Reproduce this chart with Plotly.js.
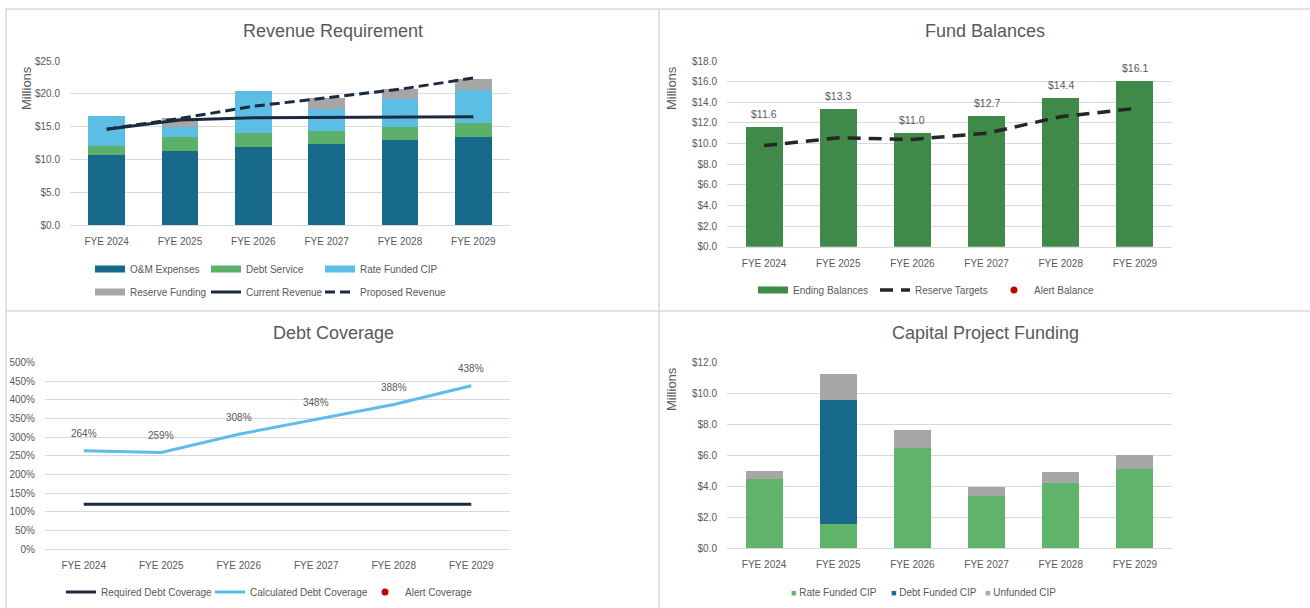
<!DOCTYPE html>
<html><head><meta charset="utf-8">
<script src="https://cdn.plot.ly/plotly-3.0.1.min.js"></script>
<style>html,body{margin:0;padding:0;background:#fff}#chart{width:1310px;height:608px}</style>
</head><body><div id="chart"></div>
<script>
// ---------- DATA ----------
const years = ['FYE 2024','FYE 2025','FYE 2026','FYE 2027','FYE 2028','FYE 2029'];
// Revenue Requirement ($ millions)
const omExpenses     = [10.6, 11.3, 11.9, 12.35, 12.95, 13.4];
const debtService    = [1.5, 2.05, 2.1, 2.0, 2.0, 2.1];
const rateFundedCIP  = [4.5, 1.55, 6.45, 3.35, 4.2, 5.1];
const reserveFunding = [0, 1.4, 0, 1.65, 1.6, 1.7];
const currentRevenue = [14.6, 16.0, 16.35, 16.4, 16.45, 16.5];
const proposedRevenue= [14.6, 16.25, 18.1, 19.35, 20.7, 22.4];
// Fund Balances ($ millions)
const endingBalances = [11.6, 13.3, 11.0, 12.7, 14.4, 16.1];
const reserveTargets = [9.8, 10.55, 10.4, 11.0, 12.6, 13.4];
const alertBalance   = [null, null, null, null, null, null];
// Debt Coverage (%)
const requiredCoverage   = [120, 120, 120, 120, 120, 120];
const calculatedCoverage = [264, 259, 308, 348, 388, 438];
const alertCoverage      = [null, null, null, null, null, null];
// Capital Project Funding ($ millions)
const debtFundedCIP = [0, 8.03, 0, 0, 0, 0];
const unfundedCIP   = [0.46, 1.69, 1.17, 0.6, 0.73, 0.9];

// ---------- STYLE ----------
const FONT = '"Liberation Sans", Arial, sans-serif';
const TXT = '#595959';
const GRID = '#d9d9d9';
const C_OM = '#176a8c', C_DEBT = '#5db06a', C_CIP = '#5cbde5', C_GRAY = '#a6a6a6';
const C_NAVY = '#1b2a41', C_FUND = '#3f8a48', C_DASH2 = '#262626', C_RED = '#c00000';
const C_CALC = '#5ebde8', C_RATE4 = '#5fb36b';
const W = 1310, H = 608;
const px = v => v / W, py = v => 1 - v / H;

function xax(domain, anchor) {
  return {domain, anchor, type:'category', range:[-0.5, 5.5], showgrid:false,
    showline:true, linecolor:GRID, linewidth:1, zeroline:false,
    ticks:'outside', ticklen:7, tickcolor:'rgba(0,0,0,0)',
    tickfont:{size:10, color:TXT, family:FONT}, fixedrange:true};
}
function yax(domain, anchor, range, dtick, fmt, suffix) {
  return {domain, anchor, range, dtick, tickformat:fmt, ticksuffix:suffix,
    showgrid:true, gridcolor:GRID, gridwidth:1, zeroline:false, showline:false,
    ticks:'outside', ticklen:7, tickcolor:'rgba(0,0,0,0)',
    tickfont:{size:10, color:TXT, family:FONT}, fixedrange:true};
}

const NUL = years.map(() => null);
const traces = [];
function bar(y, color, xa, ya) {
  traces.push({type:'bar', x:years, y, marker:{color}, xaxis:xa, yaxis:ya,
    showlegend:false, hoverinfo:'skip'});
}
function swatch(name, color, legend, lw, xa, ya) {
  traces.push({type:'scatter', mode:'lines', x:years, y:NUL, name, legend,
    line:{color, width:7}, xaxis:xa || 'x', yaxis:ya || 'y', hoverinfo:'skip', legendwidth:lw});
}

// Panel 1
bar(omExpenses, C_OM, 'x', 'y');
bar(debtService, C_DEBT, 'x', 'y');
bar(rateFundedCIP, C_CIP, 'x', 'y');
bar(reserveFunding, C_GRAY, 'x', 'y');
swatch('O&M Expenses', C_OM, 'legend', 71);
swatch('Debt Service', C_DEBT, 'legend', 69);
swatch('Rate Funded CIP', C_CIP, 'legend', 80);
swatch('Reserve Funding', C_GRAY, 'legend2', 71);
traces.push({type:'scatter', mode:'lines', x:years, y:currentRevenue, name:'Current Revenue',
  legend:'legend2', legendwidth:69, line:{color:C_NAVY, width:3}, xaxis:'x', yaxis:'y', hoverinfo:'skip'});
traces.push({type:'scatter', mode:'lines', x:years, y:proposedRevenue, name:'Proposed Revenue',
  legend:'legend2', legendwidth:85, line:{color:C_NAVY, width:3, dash:'10px,5px'}, xaxis:'x', yaxis:'y', hoverinfo:'skip'});

// Panel 2
bar(endingBalances, C_FUND, 'x2', 'y2');
swatch('Ending Balances', C_FUND, 'legend3', 77, 'x2', 'y2');
traces.push({type:'scatter', mode:'lines', x:years, y:reserveTargets, name:'Reserve Targets',
  legend:'legend3', legendwidth:74, line:{color:C_DASH2, width:3.5, dash:'13px,8px'}, xaxis:'x2', yaxis:'y2', hoverinfo:'skip'});
traces.push({type:'scatter', mode:'markers', x:years, y:alertBalance, name:'Alert Balance',
  legend:'legend3', marker:{color:C_RED, size:7}, xaxis:'x2', yaxis:'y2', hoverinfo:'skip'});

// Panel 3
traces.push({type:'scatter', mode:'lines', x:years, y:requiredCoverage, name:'Required Debt Coverage',
  legend:'legend4', legendwidth:104, line:{color:C_NAVY, width:3}, xaxis:'x3', yaxis:'y3', hoverinfo:'skip'});
traces.push({type:'scatter', mode:'lines', x:years, y:calculatedCoverage, name:'Calculated Debt Coverage',
  legend:'legend4', legendwidth:110, line:{color:C_CALC, width:3}, xaxis:'x3', yaxis:'y3', hoverinfo:'skip'});
traces.push({type:'scatter', mode:'markers', x:years, y:alertCoverage, name:'Alert Coverage',
  legend:'legend4', marker:{color:C_RED, size:7}, xaxis:'x3', yaxis:'y3', hoverinfo:'skip'});

// Panel 4
bar(rateFundedCIP, C_RATE4, 'x4', 'y4');
bar(debtFundedCIP, C_OM, 'x4', 'y4');
bar(unfundedCIP, C_GRAY, 'x4', 'y4');
[['Rate Funded CIP', C_RATE4, 55], ['Debt Funded CIP', C_OM, 49], ['Unfunded CIP', C_GRAY, 90]].forEach(([n, c, lw]) => {
  traces.push({type:'scatter', mode:'markers', x:years, y:NUL, legend:'legend5', legendwidth:lw,
    name:'<span style="color:' + c + ';font-size:9px">■</span> ' + n,
    marker:{color:'rgba(0,0,0,0)', size:0}, xaxis:'x4', yaxis:'y4', hoverinfo:'skip'});
});

// ---------- ANNOTATIONS ----------
const annotations = [];
function title(text, x, y) {
  annotations.push({xref:'paper', yref:'paper', x:px(x), y:py(y), text, showarrow:false,
    xanchor:'center', yanchor:'middle', font:{size:18, color:TXT, family:FONT}});
}
title('Revenue Requirement', 333, 31);
title('Fund Balances', 985, 31);
title('Debt Coverage', 333, 333);
title('Capital Project Funding', 985, 333);
function ytitle(x, y) {
  annotations.push({xref:'paper', yref:'paper', x:px(x), y:py(y), text:'Millions', showarrow:false,
    textangle:-90, xanchor:'center', yanchor:'middle', font:{size:13, color:TXT, family:FONT}});
}
ytitle(26, 88);
ytitle(671, 88);
ytitle(671, 389);
years.forEach((yr, i) => {
  annotations.push({xref:'x2', yref:'y2', x:yr, y:endingBalances[i], text:'$' + endingBalances[i].toFixed(1),
    showarrow:false, yshift:13, font:{size:10.5, color:TXT, family:FONT}});
  annotations.push({xref:'x3', yref:'y3', x:yr, y:calculatedCoverage[i], text:calculatedCoverage[i] + '%',
    showarrow:false, yshift:17, font:{size:10, color:TXT, family:FONT}});
});

// ---------- SHAPES (panel borders) ----------
const bc = {color:GRID, width:1.5};
const shapes = [
  {type:'rect', xref:'paper', yref:'paper', x0:px(6), x1:px(1314), y0:py(612), y1:py(9), line:bc, layer:'below'},
  {type:'line', xref:'paper', yref:'paper', x0:px(659), x1:px(659), y0:py(612), y1:py(9), line:bc, layer:'below'},
  {type:'line', xref:'paper', yref:'paper', x0:px(6), x1:px(1314), y0:py(311), y1:py(311), line:bc, layer:'below'},
];

function leg(x, y) {
  return {orientation:'h', x:px(x), y:py(y), xanchor:'left', yanchor:'middle',
    bgcolor:'rgba(0,0,0,0)', traceorder:'normal', font:{size:10, color:TXT, family:FONT}};
}

const layout = {
  width:W, height:H, margin:{l:0, r:0, t:0, b:0}, paper_bgcolor:'#fff', plot_bgcolor:'#fff',
  font:{family:FONT, color:TXT}, barmode:'stack', bargap:0.5, showlegend:true, hovermode:false,
  xaxis: xax([px(70), px(510)], 'y'),
  yaxis: yax([1 - 225/H, 1 - 61/H], 'x', [0, 25], 5, '$.1f', ''),
  xaxis2: xax([px(727), px(1172)], 'y2'),
  yaxis2: yax([1 - 246.7/H, 1 - 61/H], 'x2', [0, 18], 2, '$.1f', ''),
  xaxis3: xax([px(45), px(510)], 'y3'),
  yaxis3: yax([59/H, 245.3/H], 'x3', [0, 500], 50, 'd', '%'),
  xaxis4: xax([px(727), px(1172)], 'y4'),
  yaxis4: yax([60/H, 245.3/H], 'x4', [0, 12], 2, '$.1f', ''),
  legend: leg(90, 269),
  legend2: leg(90, 292),
  legend3: leg(753, 290),
  legend4: leg(61, 592),
  legend5: leg(751, 592),
  annotations, shapes
};

Plotly.newPlot('chart', traces, layout, {displayModeBar:false, staticPlot:true});
</script></body></html>
